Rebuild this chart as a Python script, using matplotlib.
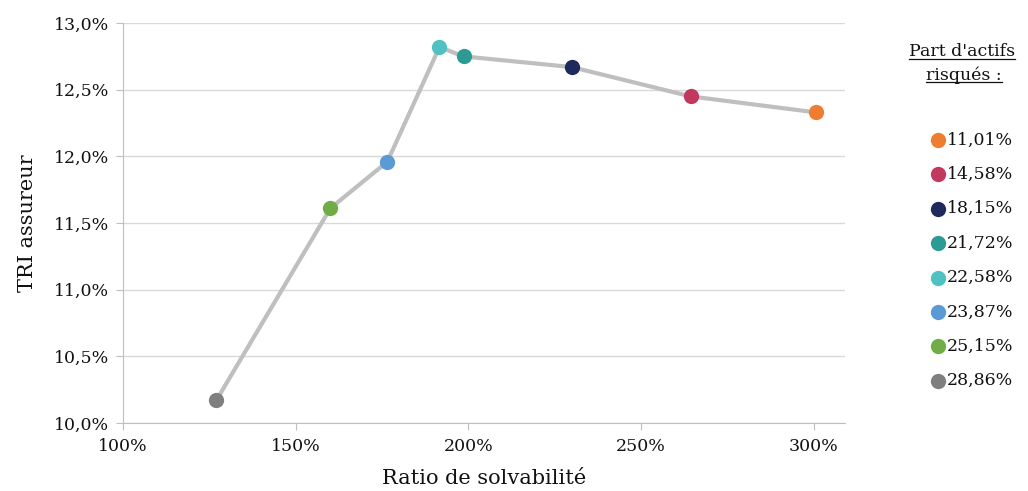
import matplotlib
matplotlib.use("Agg")
import matplotlib.pyplot as plt
from matplotlib.lines import Line2D
from matplotlib.ticker import FuncFormatter, MultipleLocator

# Solvency ratio (%) vs insurer IRR (%) for each share of risky assets
part_risque = ["28,86%", "25,15%", "23,87%", "22,58%", "21,72%", "18,15%", "14,58%", "11,01%"]
ratio_solva = [127.0, 160.0, 176.5, 191.6, 198.6, 229.9, 264.3, 300.6]
tri_assureur = [10.17, 11.61, 11.96, 12.82, 12.75, 12.67, 12.45, 12.33]
couleurs = ["#7f7f7f", "#70ad47", "#5b9bd5", "#4fc1c2", "#2e9a94", "#1f2a5c", "#c2395f", "#ed7d31"]

plt.rcParams["font.family"] = ["DejaVu Serif"]
TXT = "#111111"

fig = plt.figure(figsize=(10.28, 4.91), dpi=100)
ax = fig.add_axes([0.1197, 0.1385, 0.7023, 0.8145])

ax.plot(ratio_solva, tri_assureur, color="#bfbfbf", lw=3, zorder=2)
for x, y, c in zip(ratio_solva, tri_assureur, couleurs):
    ax.plot(x, y, "o", color=c, ms=11, mec="none", zorder=3)

ax.set_xlim(100, 309)
ax.set_ylim(10.0, 13.0)
ax.xaxis.set_major_locator(MultipleLocator(50))
ax.yaxis.set_major_locator(MultipleLocator(0.5))
ax.xaxis.set_major_formatter(FuncFormatter(lambda v, p: f"{v:.0f}%"))
ax.yaxis.set_major_formatter(FuncFormatter(lambda v, p: f"{v:.1f}%".replace(".", ",")))

ax.grid(axis="y", color="#d9d9d9", lw=1)
ax.set_axisbelow(True)
for s in ("top", "right"):
    ax.spines[s].set_visible(False)
for s in ("left", "bottom"):
    ax.spines[s].set_color("#bfbfbf")
ax.tick_params(axis="both", colors="#bfbfbf", labelcolor=TXT, labelsize=12.5, length=5)
ax.tick_params(axis="x", pad=6)
ax.tick_params(axis="y", pad=5)

ax.set_xlabel("Ratio de solvabilité", fontsize=15, color=TXT, labelpad=10)
ax.set_ylabel("TRI assureur", fontsize=15, color=TXT, labelpad=12)

# Legend drawn by hand on the right
W, H = 1028, 491
t1 = fig.text(962 / W, 1 - 52 / H, "Part d'actifs", ha="center", va="center", fontsize=12.5, color=TXT)
t2 = fig.text(964 / W, 1 - 75 / H, "risqués :", ha="center", va="center", fontsize=12.5, color=TXT)
fig.canvas.draw()
r = fig.canvas.get_renderer()
for t in (t1, t2):
    bb = t.get_window_extent(r)
    yline = bb.y0 + 2
    fig.add_artist(Line2D([bb.x0 / W, bb.x1 / W], [yline / H, yline / H],
                          transform=fig.transFigure, color=TXT, lw=0.9))

ordre = list(range(len(part_risque)))[::-1]
for i, k in enumerate(ordre):
    yp = 1 - (140 + i * 34.4) / H
    fig.add_artist(Line2D([938 / W], [yp], transform=fig.transFigure, marker="o",
                          ms=11, color=couleurs[k], mec="none", ls="none"))
    fig.text(947 / W, yp, part_risque[k], ha="left", va="center", fontsize=12.5, color=TXT)

fig.savefig("out.png", dpi=100)
